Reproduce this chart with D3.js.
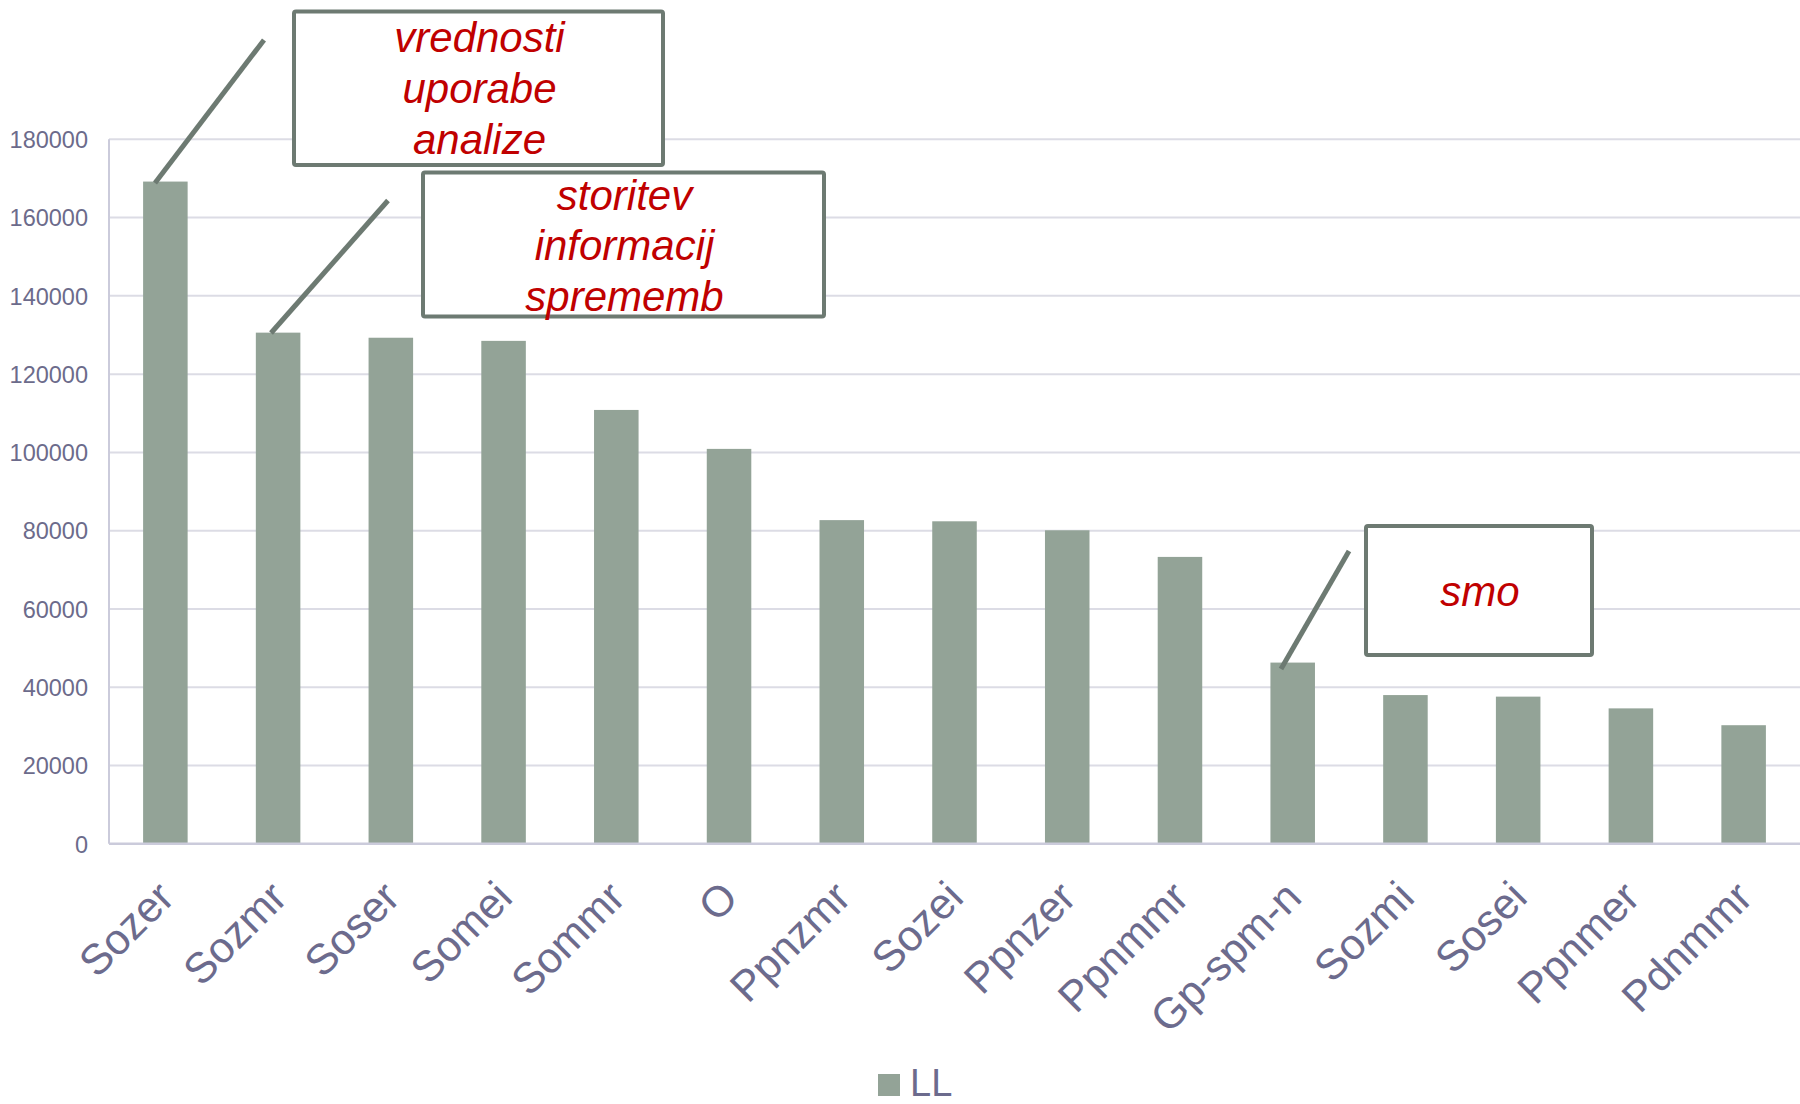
<!DOCTYPE html>
<html>
<head>
<meta charset="utf-8">
<script src="https://cdn.jsdelivr.net/npm/d3@7"></script>
<style>
  html, body { margin: 0; padding: 0; background: #ffffff; }
  svg { display: block; }
</style>
</head>
<body>
<svg id="chart" width="1800" height="1104"></svg>
<script>
// ---- data ----
const categories = ["Sozer", "Sozmr", "Soser", "Somei", "Sommr", "O", "Ppnzmr", "Sozei",
                    "Ppnzer", "Ppnmmr", "Gp-spm-n", "Sozmi", "Sosei", "Ppnmer", "Pdnmmr"];
const values = [169200, 130600, 129300, 128500, 110850, 100900, 82700, 82400,
                 80100, 73300, 46300, 38000, 37600, 34600, 30300];
const seriesName = "LL";
const yTicks = [0, 20000, 40000, 60000, 80000, 100000, 120000, 140000, 160000, 180000];

// annotations: callout text lines
const calloutTexts = [["vrednosti", "uporabe", "analize"], ["storitev", "informacij", "sprememb"], ["smo"]];

// ---- layout ----
const svg = d3.select("#chart");
const plotLeft = 109, plotRight = 1800, plotTop = 139.3, plotBottom = 843.8;
const font = "'Liberation Sans', Arial, sans-serif";

const x = d3.scaleBand().domain(categories).range([plotLeft, plotRight])
  .paddingInner(0.605).paddingOuter(0.3025);
const y = d3.scaleLinear().domain([0, 180000]).range([plotBottom, plotTop]);

// gridlines
svg.append("g").selectAll("line").data(yTicks.filter(d => d > 0)).join("line")
  .attr("x1", plotLeft).attr("x2", plotRight)
  .attr("y1", d => y(d)).attr("y2", d => y(d))
  .attr("stroke", "#dcdce5").attr("stroke-width", 2);

// bars
svg.append("g").selectAll("rect").data(categories).join("rect")
  .attr("x", d => x(d)).attr("width", x.bandwidth())
  .attr("y", (d, i) => y(values[i]))
  .attr("height", (d, i) => plotBottom - y(values[i]))
  .attr("fill", "#93a397");

// y axis
const yAxis = svg.append("g").attr("transform", `translate(${plotLeft},0)`)
  .call(d3.axisLeft(y).tickValues(yTicks).tickSize(0).tickPadding(21).tickFormat(d3.format("d")));
yAxis.select(".domain").remove();
yAxis.selectAll("text").attr("font-family", font).attr("font-size", 23.5)
  .attr("fill", "#6c6b8b").attr("dy", "0.35em");

// axis lines
svg.append("line").attr("x1", plotLeft).attr("x2", plotLeft).attr("y1", plotTop).attr("y2", plotBottom)
  .attr("stroke", "#cbcbdb").attr("stroke-width", 2);
svg.append("line").attr("x1", plotLeft).attr("x2", plotRight).attr("y1", plotBottom).attr("y2", plotBottom)
  .attr("stroke", "#cbcbdb").attr("stroke-width", 2.5);

// x axis labels
const xAxis = svg.append("g").attr("transform", `translate(0,${plotBottom})`)
  .call(d3.axisBottom(x).tickSize(0).tickPadding(0));
xAxis.select(".domain").remove();
xAxis.selectAll("text")
  .attr("font-family", font).attr("font-size", 43).attr("fill", "#6c6b8d")
  .attr("text-anchor", "end").attr("dy", 0).attr("y", 0)
  .attr("transform", "translate(11,56) rotate(-45)");

// callouts
const boxes = [
  { x0: 294, y0: 11.5, x1: 663, y1: 165, lx: 264, ly: 40, tx: 155, ty: 183, base: 52 },
  { x0: 423, y0: 172.5, x1: 824, y1: 316.5, lx: 388, ly: 200.5, tx: 271, ty: 333, base: 209.5 },
  { x0: 1366, y0: 526, x1: 1592, y1: 655, lx: 1349, ly: 551, tx: 1281, ty: 669, base: 606 }
];
const lineColor = "#6d7a72";
boxes.forEach((b, i) => {
  const g = svg.append("g");
  g.append("line").attr("x1", b.lx).attr("y1", b.ly).attr("x2", b.tx).attr("y2", b.ty)
    .attr("stroke", lineColor).attr("stroke-width", 5);
  g.append("rect").attr("x", b.x0).attr("y", b.y0)
    .attr("width", b.x1 - b.x0).attr("height", b.y1 - b.y0)
    .attr("rx", 2).attr("fill", "#ffffff").attr("stroke", lineColor).attr("stroke-width", 4);
  const cx = (b.x0 + b.x1) / 2;
  calloutTexts[i].forEach((t, j) => {
    g.append("text").attr("x", cx + 1).attr("y", b.base + j * 50.8)
      .attr("text-anchor", "middle").attr("font-family", font).attr("font-size", 42)
      .attr("font-style", "italic").attr("fill", "#c00000").text(t);
  });
});

// legend
const leg = svg.append("g");
leg.append("rect").attr("x", 878).attr("y", 1074).attr("width", 22).attr("height", 22).attr("fill", "#93a397");
leg.append("text").attr("x", 910).attr("y", 1096).attr("font-family", font).attr("font-size", 38)
  .attr("fill", "#6c6b8d").text(seriesName);
</script>
</body>
</html>
